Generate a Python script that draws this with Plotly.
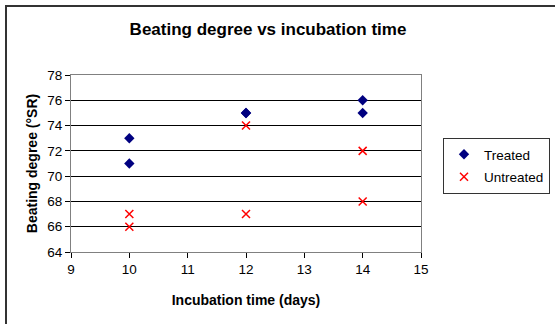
import plotly.graph_objects as go

treated_x = [10, 10, 12, 12, 14, 14]
treated_y = [73, 71, 75, 75, 76, 75]
untreated_x = [10, 10, 12, 12, 14, 14]
untreated_y = [67, 66, 74, 67, 72, 68]

W, H = 555, 324
L, R, T, B = 71, 421, 75, 252

def px(x):
    return (x - L) / (R - L)

def py(y):
    return (B - y) / (B - T)

fig = go.Figure()
fig.add_trace(go.Scatter(x=treated_x, y=treated_y, mode="markers", name="Treated",
                         legendgroup="t",
                         marker=dict(symbol="diamond", size=8, color="#000080")))
fig.add_trace(go.Scatter(x=untreated_x, y=untreated_y, mode="markers", name="Untreated",
                         legendgroup="u",
                         marker=dict(symbol="x-thin-open", size=8, color="#FF0000",
                                     line=dict(color="#FF0000", width=1.5))))

font = "Liberation Sans, Arial, sans-serif"
fig.update_layout(
    width=W, height=H,
    margin=dict(l=L, r=W - R, t=T, b=H - B),
    paper_bgcolor="white", plot_bgcolor="white",
    font=dict(family=font, size=13.5, color="black"),
    title=dict(text="<b>Beating degree vs incubation time</b>", x=px(268), xref="paper",
               xanchor="center", y=1 - 29 / H, yanchor="middle",
               font=dict(size=17, family=font)),
    showlegend=True,
    legend=dict(xref="container", yref="container", x=443 / W, y=1 - 138 / H,
                xanchor="left", yanchor="top",
                bordercolor="#333333", borderwidth=1, bgcolor="white",
                font=dict(size=13.5, family=font), itemwidth=30,
                tracegroupgap=2),
    xaxis=dict(range=[9, 15], dtick=1, showgrid=False, zeroline=False,
               showline=True, linecolor="#808080", linewidth=1, mirror=True,
               ticks="outside", ticklen=5, tickcolor="black",
               title=dict(text="<b>Incubation time (days)</b>", font=dict(size=14, family=font),
                          standoff=18)),
    yaxis=dict(range=[64, 78], dtick=2, showgrid=True, gridcolor="black", gridwidth=1,
               zeroline=False, showline=True, linecolor="#808080", linewidth=1, mirror=True,
               ticks="outside", ticklen=5, tickcolor="black",
               title=dict(text="<b>Beating degree (°SR)</b>", font=dict(size=14, family=font),
                          standoff=6)),
    shapes=[dict(type="rect", xref="paper", yref="paper",
                 x0=px(6), x1=px(600), y0=py(6), y1=py(400),
                 line=dict(color="#333333", width=2))],
)

fig.write_html("out.html", config={"displayModeBar": False},
               post_script="document.body.style.margin='0';")
